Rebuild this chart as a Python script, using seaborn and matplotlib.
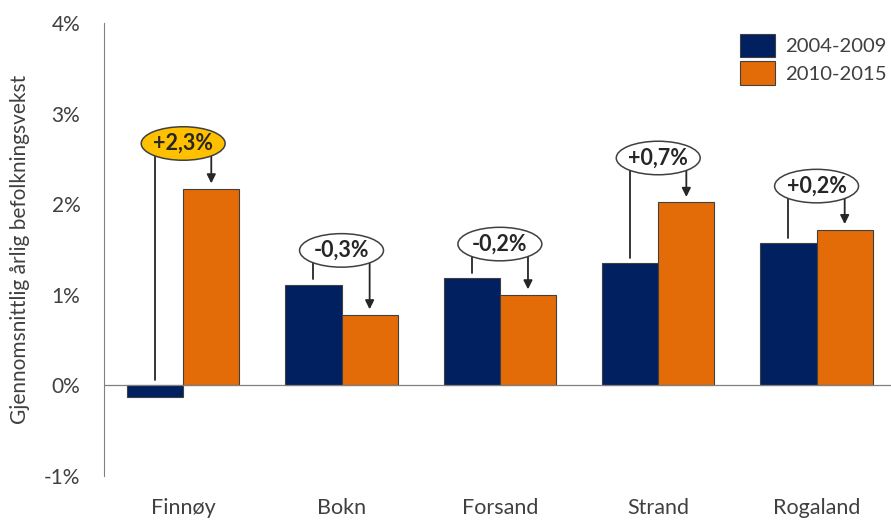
import matplotlib
matplotlib.use("Agg")
import matplotlib.pyplot as plt
from matplotlib.patches import Ellipse, Patch
import seaborn as sns
import pandas as pd

categories = ["Finnøy", "Bokn", "Forsand", "Strand", "Rogaland"]
series_names = ["2004-2009", "2010-2015"]
vals_2004_2009 = [-0.13, 1.11, 1.18, 1.35, 1.57]
vals_2010_2015 = [2.17, 0.78, 1.00, 2.02, 1.72]
change_labels = ["+2,3%", "-0,3%", "-0,2%", "+0,7%", "+0,2%"]
y_ticks = [-1, 0, 1, 2, 3, 4]
y_tick_labels = ["-1%", "0%", "1%", "2%", "3%", "4%"]
y_label = "Gjennomsnittlig årlig befolkningsvekst"

navy = "#002060"
orange = "#E36C09"
txt = "#404040"
dark = "#262626"

sns.set_style("white")
plt.rcParams["font.family"] = ["Lato", "DejaVu Sans"]

df = pd.DataFrame({
    "kommune": categories * 2,
    "periode": [series_names[0]] * 5 + [series_names[1]] * 5,
    "vekst": vals_2004_2009 + vals_2010_2015,
})

fig = plt.figure(figsize=(8.91, 5.23), dpi=100)
ax = fig.add_axes([104 / 891, 1 - 476 / 523, 1 - 104 / 891, (476 - 23) / 523])

sns.barplot(data=df, x="kommune", y="vekst", hue="periode", order=categories,
            hue_order=series_names, palette=[navy, orange], width=0.71, gap=0,
            edgecolor="#404040", linewidth=0.8, saturation=1, ax=ax, legend=False,
            zorder=2)

ax.set_ylim(-1, 4)
ax.set_xlim(-0.5, 4.47)
ax.set_yticks(y_ticks)
ax.set_yticklabels(y_tick_labels, fontsize=15, color=txt)
ax.tick_params(axis="y", direction="out", length=5, width=0.8, color="#808080", pad=12)
ax.tick_params(axis="x", length=0, pad=16, labelsize=15.5, labelcolor=txt)
ax.set_xlabel("")
ax.set_ylabel(y_label, fontsize=15, color=txt, labelpad=10)
for s in ["top", "right", "bottom"]:
    ax.spines[s].set_visible(False)
ax.spines["left"].set_color("#808080")
ax.spines["left"].set_linewidth(0.8)
ax.axhline(0, color="#808080", lw=0.9, zorder=3)

# annotations
offsets = [0.50, 0.38, 0.38, 0.49, 0.48]
half = 0.71 / 4
gap = 0.06
ell_w, ell_h = 0.53, 0.37
for i, lab in enumerate(change_labels):
    v1, v2 = vals_2004_2009[i], vals_2010_2015[i]
    yc = max(v1, v2) + offsets[i]
    x1, x2 = i - half, i + half
    ax.plot([x1, x1], [max(v1, 0) + gap, yc], color=dark, lw=1.3, zorder=4)
    ax.annotate("", xy=(x2, v2 + gap), xytext=(x2, yc),
                arrowprops=dict(arrowstyle="-|>", color=dark, lw=1.3,
                                mutation_scale=13, shrinkA=0, shrinkB=0),
                zorder=4)
    fc = "#FFC000" if i == 0 else "white"
    ax.add_patch(Ellipse((i, yc), ell_w, ell_h, facecolor=fc, edgecolor="#404040",
                         lw=1.1, zorder=5))
    ax.text(i, yc, lab, ha="center", va="center", fontsize=15.5, fontweight="bold",
            color=dark, zorder=6)

handles = [Patch(facecolor=navy, edgecolor="#404040", lw=0.8),
           Patch(facecolor=orange, edgecolor="#404040", lw=0.8)]
fig.legend(handles, series_names, loc="upper right", bbox_to_anchor=(1.006, 0.955),
           frameon=False, fontsize=14.6, handlelength=1.75, handleheight=1.4,
           handletextpad=0.45, labelspacing=0.2, labelcolor=txt, borderaxespad=0.1)

fig.savefig("out.png", dpi=100)
